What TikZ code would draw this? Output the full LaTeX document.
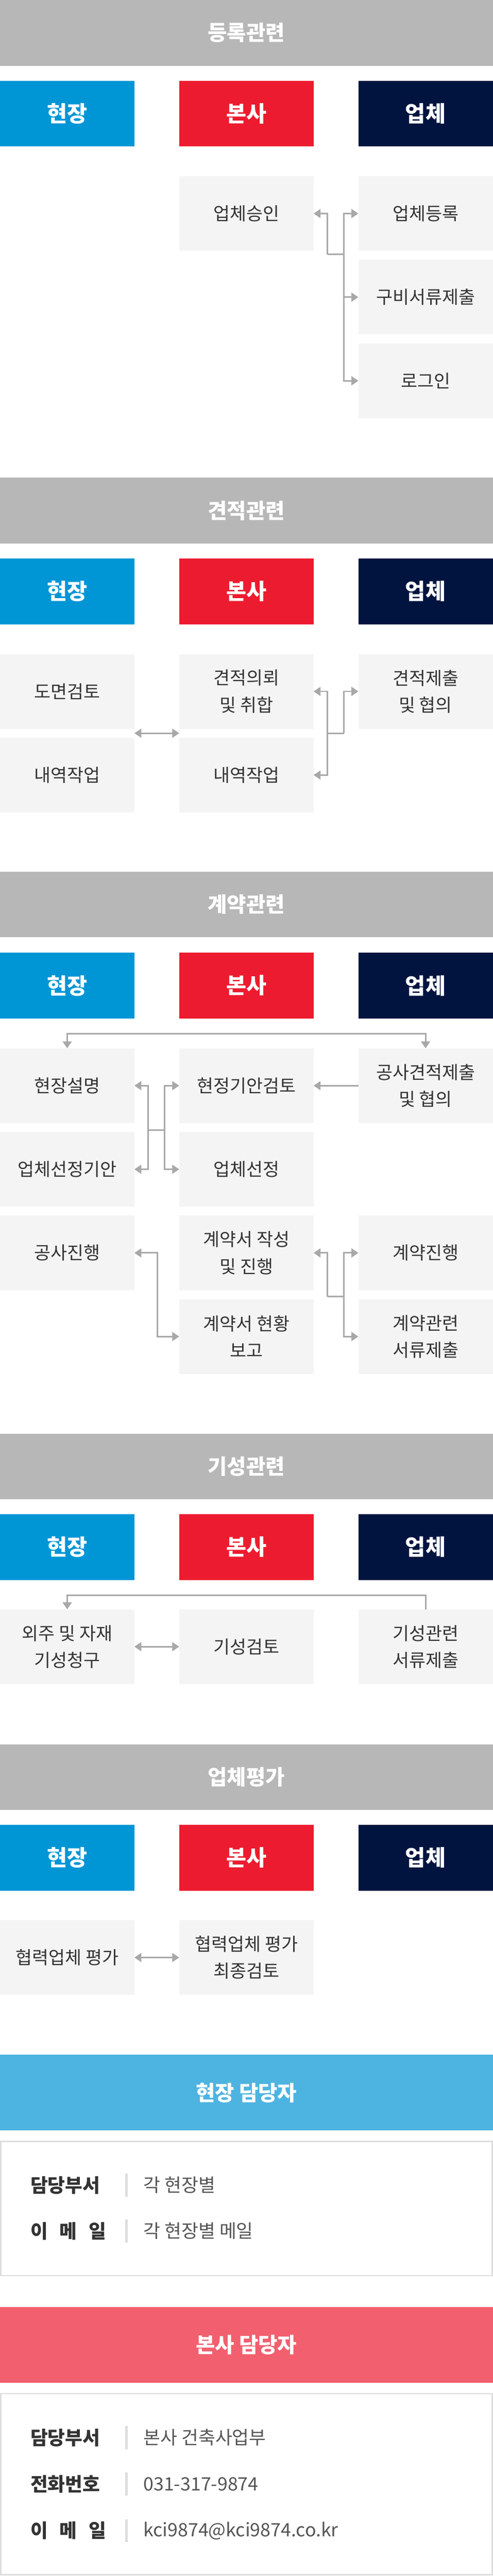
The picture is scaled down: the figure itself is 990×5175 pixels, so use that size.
\documentclass[tikz,border=0pt]{standalone}
\usepackage{fontspec}
\setmainfont{Noto Sans CJK KR}
\usetikzlibrary{arrows.meta}
\definecolor{secgray}{HTML}{B7B7B7}
\definecolor{cblue}{HTML}{0096D6}
\definecolor{cred}{HTML}{ED1B2F}
\definecolor{cnavy}{HTML}{00143F}
\definecolor{boxbg}{HTML}{F4F4F4}
\definecolor{arrgray}{HTML}{A8A8A8}
\definecolor{txt}{HTML}{333333}
\definecolor{valtxt}{HTML}{555555}
\definecolor{lblue}{HTML}{4DB4E2}
\definecolor{pink}{HTML}{F25F6E}
\definecolor{bord}{HTML}{DDDDDD}
\tikzset{
  sec/.style={fill=secgray, minimum width=990pt, minimum height=132pt, inner sep=0, outer sep=0, text=white, font=\fontsize{42}{50}\selectfont\bfseries},
  colh/.style={minimum width=270pt, minimum height=132pt, inner sep=0, outer sep=0, text=white, font=\fontsize{44}{52}\selectfont\bfseries},
  stepbox/.style={fill=boxbg, minimum width=270pt, minimum height=150pt, inner sep=0, outer sep=0, text=txt, align=center, font=\fontsize{36}{54}\selectfont},
  arr/.style={draw=arrgray, line width=3pt, -{Triangle[length=14pt,width=18pt]}},
  arrb/.style={draw=arrgray, line width=3pt, {Triangle[length=14pt,width=18pt]}-{Triangle[length=14pt,width=18pt]}},
  ln/.style={draw=arrgray, line width=3pt},
  band/.style={minimum width=990pt, minimum height=152pt, inner sep=0, outer sep=0, text=white, font=\fontsize{42}{50}\selectfont\bfseries},
  lbl/.style={anchor=west, inner sep=0, text=txt, font=\fontsize{38}{46}\selectfont\bfseries},
  val/.style={anchor=west, inner sep=0, text=valtxt, font=\fontsize{37}{46}\selectfont},
}
\newcommand{\colheads}[2]{%
  \node[colh, fill=cblue] (#1a) at (135,#2) {현장};
  \node[colh, fill=cred] (#1b) at (495,#2) {본사};
  \node[colh, fill=cnavy] (#1c) at (855,#2) {업체};
}
\begin{document}
\begin{tikzpicture}[x=1pt,y=-1pt]
\useasboundingbox[fill=white] (0,0) rectangle (990,5175);
% ---- 1 등록관련
\node[sec] (s1) at (495,66) {등록관련};
\colheads{h1}{228}
\node[stepbox] (ap) at (495,429) {업체승인};
\node[stepbox] (rg) at (855,429) {업체등록};
\node[stepbox] (dc) at (855,597) {구비서류제출};
\node[stepbox] (lg) at (855,765) {로그인};
\coordinate (j1) at (658,511);
\coordinate (j2) at (691,511);
\draw[arr] (j1) |- (ap.east);
\draw[ln] (j1) -- (j2);
\draw[arr] (j2) |- (rg.west);
\draw[arr] (j2) |- (dc.west);
\draw[arr] (j2) |- (lg.west);
% ---- 2 견적관련
\node[sec] (s2) at (495,1025.5) {견적관련};
\colheads{h2}{1188}
\node[stepbox] (dm) at (135,1389) {도면검토};
\node[stepbox] (w1) at (135,1557) {내역작업};
\node[stepbox] (rq) at (495,1389) {견적의뢰\\및 취합};
\node[stepbox] (w2) at (495,1557) {내역작업};
\node[stepbox] (sb) at (855,1389) {견적제출\\및 협의};
\coordinate (d1) at (270,1473);
\coordinate (d2) at (360,1473);
\draw[arrb] (d1) -- (d2);
\coordinate (j3) at (658,1473);
\coordinate (j4) at (691,1473);
\draw[arr] (j3) |- (rq.east);
\draw[arr] (j3) |- (w2.east);
\draw[ln] (j3) -- (j4);
\draw[arr] (j4) |- (sb.west);
% ---- 3 계약관련
\node[sec] (s3) at (495,1817) {계약관련};
\colheads{h3}{1980}
\node[stepbox] (a1) at (135,2181) {현장설명};
\node[stepbox] (a2) at (135,2349) {업체선정기안};
\node[stepbox] (a3) at (135,2517) {공사진행};
\node[stepbox] (b1) at (495,2181) {현정기안검토};
\node[stepbox] (b2) at (495,2349) {업체선정};
\node[stepbox] (b3) at (495,2517) {계약서 작성\\및 진행};
\node[stepbox] (b4) at (495,2685) {계약서 현황\\보고};
\node[stepbox] (c1) at (855,2181) {공사견적제출\\및 협의};
\node[stepbox] (c3) at (855,2517) {계약진행};
\node[stepbox] (c4) at (855,2685) {계약관련\\서류제출};
\coordinate (tl) at (495,2077);
\draw[arr] (tl) -| (a1.north);
\draw[arr] (tl) -| (c1.north);
\coordinate (k1) at (298,2270);
\coordinate (k2) at (331,2270);
\draw[arr] (k1) |- (a1.east);
\draw[arr] (k1) |- (a2.east);
\draw[ln] (k1) -- (k2);
\draw[arr] (k2) |- (b1.west);
\draw[arr] (k2) |- (b2.west);
\draw[arr] (c1.west) -- (b1.east);
\coordinate (m1) at (316,2600);
\draw[arr] (m1) |- (a3.east);
\draw[arr] (m1) |- (b4.west);
\coordinate (n1) at (658,2605);
\coordinate (n2) at (691,2605);
\draw[arr] (n1) |- (b3.east);
\draw[ln] (n1) -- (n2);
\draw[arr] (n2) |- (c3.west);
\draw[arr] (n2) |- (c4.west);
% ---- 4 기성관련
\node[sec] (s4) at (495,2946) {기성관련};
\colheads{h4}{3108}
\node[stepbox] (g1) at (135,3308) {외주 및 자재\\기성청구};
\node[stepbox] (g2) at (495,3308) {기성검토};
\node[stepbox] (g3) at (855,3308) {기성관련\\서류제출};
\draw[arr] (g3.north) -- ++(0,-28) -| (g1.north);
\draw[arrb] (g1.east) -- (g2.west);
% ---- 5 업체평가
\node[sec] (s5) at (495,3570) {업체평가};
\colheads{h5}{3732}
\node[stepbox] (e1) at (135,3932.5) {협력업체 평가};
\node[stepbox] (e2) at (495,3932.5) {협력업체 평가\\최종검토};
\draw[arrb] (e1.east) -- (e2.west);
% ---- 현장 담당자
\node[band, fill=lblue] (p1) at (495,4204) {현장 담당자};
\draw[bord, line width=3pt] (1.5,4301.5) rectangle (988.5,4571.5);
\node[lbl] (l11) at (61,4390) {담당부서};
\node[lbl] (l12) at (61,4482) {이\hspace{0.62em}메\hspace{0.62em}일};
\draw[bord, line width=5pt] (254,4367) -- (254,4413);
\draw[bord, line width=5pt] (254,4459) -- (254,4505);
\node[val] (v11) at (288,4390) {각 현장별};
\node[val] (v12) at (288,4482) {각 현장별 메일};
% ---- 본사 담당자
\node[band, fill=pink] (p2) at (495,4711) {본사 담당자};
\draw[bord, line width=3pt] (1.5,4808.5) rectangle (988.5,5172);
\node[lbl] (l21) at (61,4897) {담당부서};
\node[lbl] (l22) at (61,4990) {전화번호};
\node[lbl] (l23) at (61,5084) {이\hspace{0.62em}메\hspace{0.62em}일};
\draw[bord, line width=5pt] (254,4874) -- (254,4920);
\draw[bord, line width=5pt] (254,4967) -- (254,5013);
\draw[bord, line width=5pt] (254,5061) -- (254,5107);
\node[val] (v21) at (288,4897) {본사 건축사업부};
\node[val] (v22) at (288,4990) {031-317-9874};
\node[val] (v23) at (288,5084) {kci9874@kci9874.co.kr};
\end{tikzpicture}
\end{document}
